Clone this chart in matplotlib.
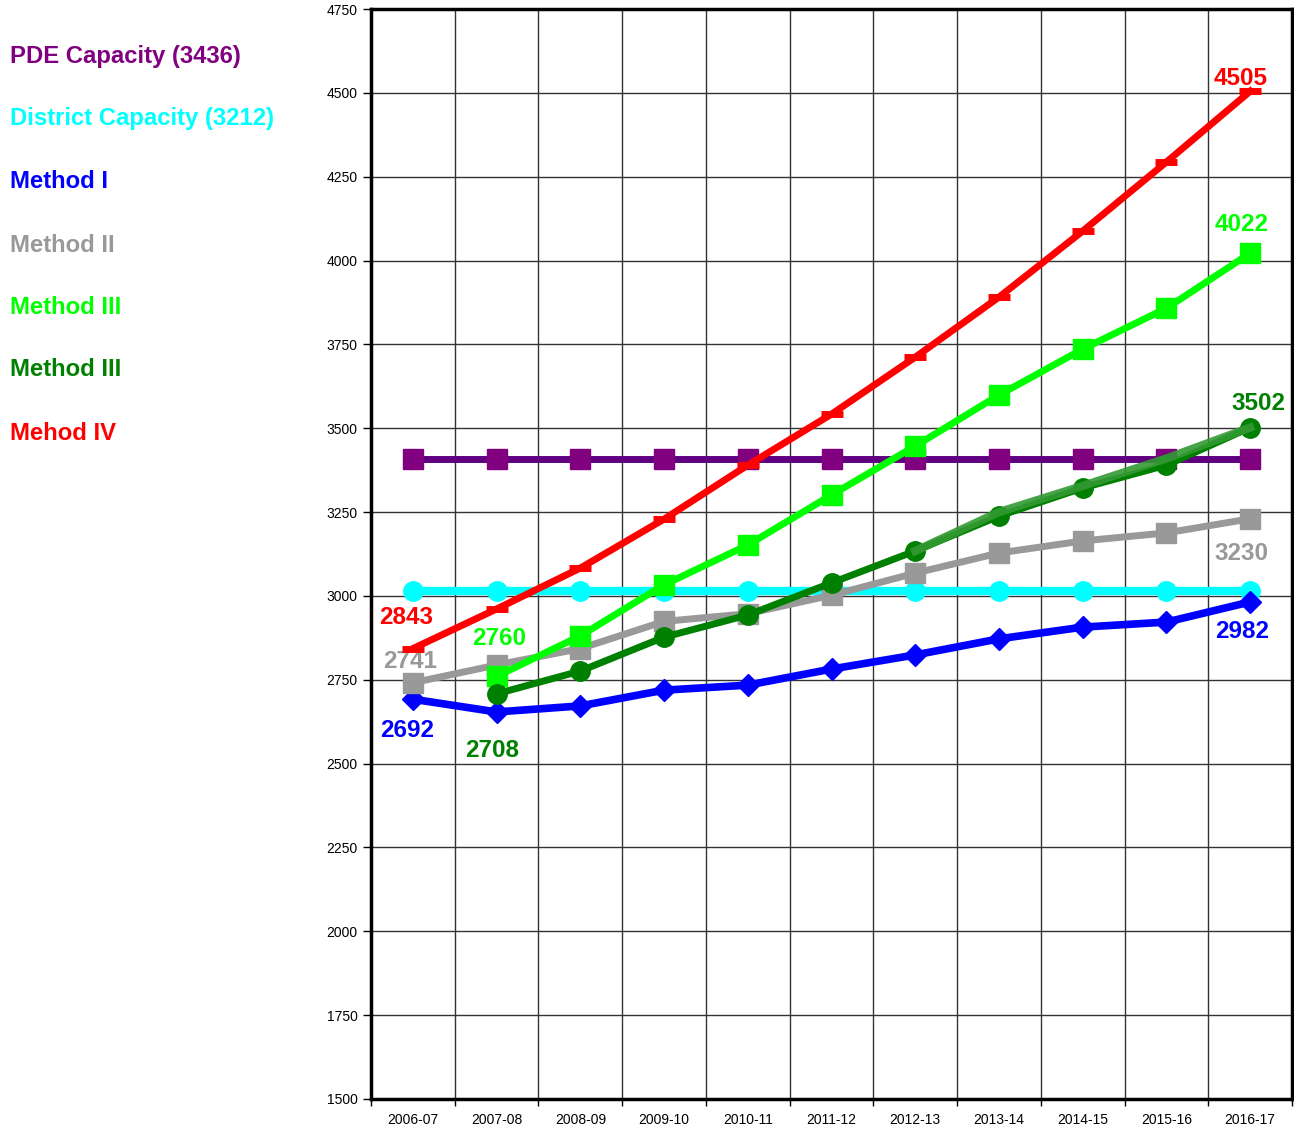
import numpy as np
import matplotlib
matplotlib.use("Agg")
import matplotlib.pyplot as plt

# years on the category axis
years = ["2006-07", "2007-08", "2008-09", "2009-10", "2010-11", "2011-12",
         "2012-13", "2013-14", "2014-15", "2015-16", "2016-17"]

# series values
pde_cap = [3408] * 11
district_cap = [3015] * 11
method1 = [2692, 2654, 2672, 2719, 2734, 2782, 2824, 2872, 2907, 2922, 2982]
method2 = [2741, 2794, 2843, 2924, 2947, 3002, 3068, 3128, 3164, 3188, 3230]
method3a = [None, 2760, 2881, 3033, 3152, 3301, 3447, 3599, 3736, 3858, 4022]
method3b = [None, 2708, 2776, 2877, 2943, 3039, 3134, 3238, 3322, 3390, 3502]
method3b_fit = [None, None, None, None, None, None, 3134, 3250, 3328, 3410, 3502]
method4 = [2843, 2961, 3083, 3229, 3390, 3542, 3712, 3891, 4088, 4294, 4505]

legend_names = ["PDE Capacity (3436)", "District Capacity (3212)", "Method I",
                "Method II", "Method III", "Method III", "Mehod IV"]
legend_colors = ["#800080", "#00ffff", "#0000ff", "#999999", "#00ff00", "#008000", "#ff0000"]

plt.rcParams['font.family'] = ['Liberation Sans', 'DejaVu Sans']

fig = plt.figure(figsize=(12.94, 11.32), dpi=100)
ax = fig.add_axes([0.2867, 0.0292, 0.7118, 0.9628])

x = np.arange(len(years))


def arr(vals):
    return np.array([np.nan if v is None else v for v in vals], dtype=float)


ax.plot(x, arr(pde_cap), color="#600080", lw=5, marker="s", ms=14,
        mfc="#800080", mec="#800080", zorder=3)
ax.plot(x, arr(district_cap), color="#00ffff", lw=6, marker="o", ms=14, zorder=4)
ax.plot(x, arr(method1), color="#0000ff", lw=5.5, marker="D", ms=11, zorder=5)
ax.plot(x, arr(method2), color="#999999", lw=5, marker="s", ms=14, zorder=5)
ax.plot(x, arr(method3a), color="#00ff00", lw=5, marker="s", ms=14, zorder=6)
ax.plot(x, arr(method3b), color="#008000", lw=5, marker="o", ms=14, zorder=7)
ax.plot(x, arr(method3b_fit), color="#339933", lw=6, alpha=0.9, zorder=8)
ax.plot(x, arr(method4), color="#ff0000", lw=5, marker="_", ms=16, mew=5, zorder=6)

# value labels
lab = dict(fontsize=17.5, fontweight="bold", ha="center", va="center",
           textcoords="offset points")
ax.annotate("2843", (0, method4[0]), xytext=(-5, 22.5), color="#ff0000", **lab)
ax.annotate("2741", (0, method2[0]), xytext=(-2, 15), color="#999999", **lab)
ax.annotate("2692", (0, method1[0]), xytext=(-4, -22.5), color="#0000ff", **lab)
ax.annotate("2760", (1, method3a[1]), xytext=(2, 27), color="#00ff00", **lab)
ax.annotate("2708", (1, method3b[1]), xytext=(-3, -41), color="#008000", **lab)
ax.annotate("4505", (10, method4[10]), xytext=(-7, 9), color="#ff0000", **lab)
ax.annotate("4022", (10, method3a[10]), xytext=(-6, 21), color="#00ff00", **lab)
ax.annotate("3502", (10, method3b[10]), xytext=(6, 17), color="#008000", **lab)
ax.annotate("3230", (10, method2[10]), xytext=(-6, -25), color="#999999", **lab)
ax.annotate("2982", (10, method1[10]), xytext=(-6, -21), color="#0000ff", **lab)

ax.set_xlim(-0.5, 10.5)
ax.set_ylim(1500, 4750)
ax.set_yticks(np.arange(1500, 4751, 250))
ax.set_xticks(x)
ax.set_xticklabels(years)
ax.set_xticks(np.arange(-0.5, 10.6, 1), minor=True)
ax.tick_params(axis="x", which="major", length=0, pad=10, labelsize=10)
ax.tick_params(axis="x", which="minor", length=5, width=1, direction="out")
ax.tick_params(axis="y", length=6, width=1, labelsize=10)

ax.grid(True, axis="y", which="major", color="#333333", lw=1)
ax.grid(True, axis="x", which="minor", color="#333333", lw=1)
ax.set_axisbelow(True)
for s in ax.spines.values():
    s.set_linewidth(2.5)
    s.set_color("black")

# text legend on the left
ys = [57, 119, 182, 245, 308, 370, 433]
for name, col, yp in zip(legend_names, legend_colors, ys):
    fig.text(10 / 1294, 1 - yp / 1132, name, color=col, fontsize=17.2,
             fontweight="bold", ha="left", va="center")

fig.savefig("out.png", dpi=100)
